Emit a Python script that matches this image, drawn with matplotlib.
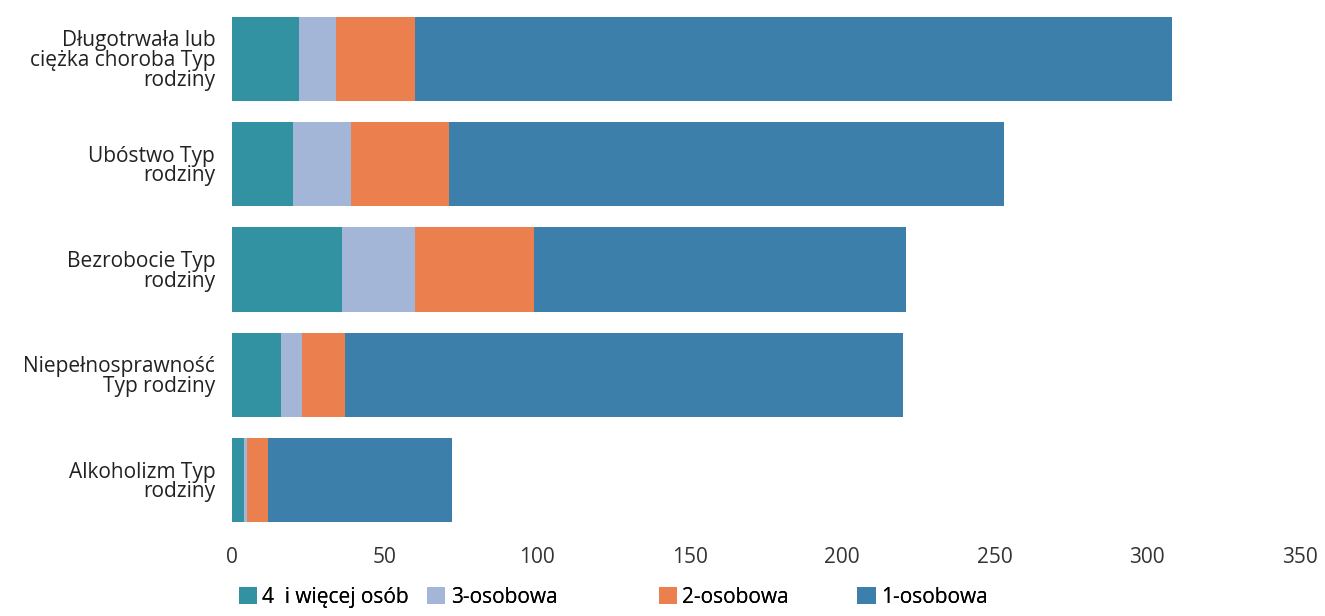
import matplotlib
matplotlib.use("Agg")
import matplotlib.pyplot as plt
from matplotlib.patches import Patch

plt.rcParams['font.family'] = ['Open Sans', 'DejaVu Sans']

categories = ["Długotrwała lub\nciężka choroba Typ\nrodziny",
              "Ubóstwo Typ\nrodziny",
              "Bezrobocie Typ\nrodziny",
              "Niepełnosprawność\nTyp rodziny",
              "Alkoholizm Typ\nrodziny"]
series_names = ["4  i więcej osób", "3-osobowa", "2-osobowa", "1-osobowa"]
s4plus = [22, 20, 36, 16, 4]
s3 = [12, 19, 24, 7, 1]
s2 = [26, 32, 39, 14, 7]
s1 = [248, 182, 122, 183, 60]
series = [s4plus, s3, s2, s1]
colors = ['#3392a2', '#a3b6d8', '#ec7f4e', '#3b7faa']
xticks = [0, 50, 100, 150, 200, 250, 300, 350]

fig = plt.figure(figsize=(13.25, 6.16), dpi=100)
ax = fig.add_axes([0.175, 0.135, 0.806, 0.855])

ypos = list(range(len(categories)))
left = [0] * len(categories)
for vals, col in zip(series, colors):
    ax.barh(ypos, vals, left=left, height=0.8, color=col, edgecolor='none')
    left = [l + v for l, v in zip(left, vals)]

ax.set_ylim(len(categories) - 0.5, -0.5)
ax.set_xlim(0, 350)
ax.set_xticks(xticks)
ax.set_xticklabels([str(t) for t in xticks], fontsize=15, color='#333333')
ax.set_yticks(ypos)
ax.set_yticklabels(categories, fontsize=15, color='#222222', linespacing=0.92)
ax.tick_params(axis='both', length=0)
ax.tick_params(axis='x', pad=10)
ax.tick_params(axis='y', pad=12)
for s in ax.spines.values():
    s.set_visible(False)

legend_x = [0.180, 0.322, 0.497, 0.647]
for name, col, lx in zip(series_names, colors, legend_x):
    leg = fig.legend([Patch(facecolor=col, edgecolor='none')], [name],
                     loc='center left', bbox_to_anchor=(lx, 0.03),
                     frameon=False, fontsize=15, handlelength=0.9, handleheight=0.9,
                     handletextpad=0.25, borderpad=0.0, borderaxespad=0.0)
    fig.add_artist(leg)

fig.savefig('out.png', dpi=100)
